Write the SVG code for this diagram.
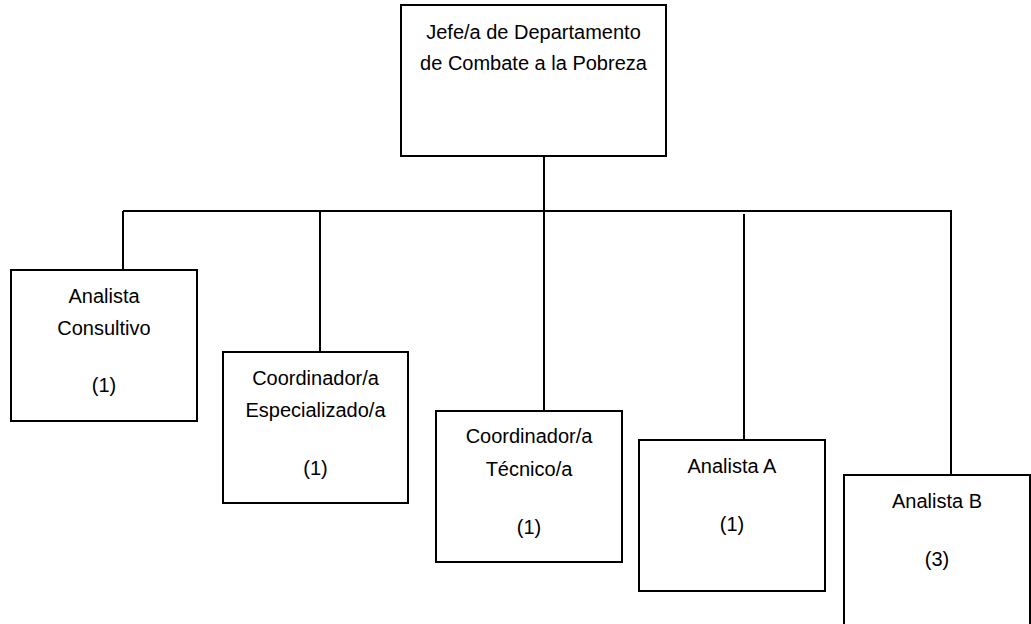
<svg xmlns="http://www.w3.org/2000/svg" width="1031" height="624" viewBox="0 0 1031 624">
<style>
.box{fill:#fff;stroke:#000;stroke-width:2}
.ln{stroke:#000;stroke-width:2;fill:none}
text{font-family:"Liberation Sans",Arial,sans-serif;font-size:20px;fill:#000;text-anchor:middle}
</style>
<rect width="1031" height="624" fill="#fff"/>
<g id="connectors">
<line class="ln" x1="544" y1="156" x2="544" y2="411"/>
<line class="ln" x1="123" y1="211" x2="952" y2="211"/>
<line class="ln" x1="123" y1="211" x2="123" y2="270"/>
<line class="ln" x1="320" y1="211" x2="320" y2="352"/>
<line class="ln" x1="744" y1="214" x2="744" y2="440"/>
<line class="ln" x1="951" y1="211" x2="951" y2="475"/>
</g>
<g id="jefe">
<rect class="box" x="401" y="5" width="265" height="151"/>
<text x="533.5" y="39">Jefe/a de Departamento</text>
<text x="533.5" y="70">de Combate a la Pobreza</text>
</g>
<g id="analista-consultivo">
<rect class="box" x="11" y="270" width="186" height="151"/>
<text x="104" y="303">Analista</text>
<text x="104" y="335">Consultivo</text>
<text x="104" y="392">(1)</text>
</g>
<g id="coord-especializado">
<rect class="box" x="223" y="352" width="185" height="151"/>
<text x="315.5" y="385">Coordinador/a</text>
<text x="315.5" y="417">Especializado/a</text>
<text x="315.5" y="475">(1)</text>
</g>
<g id="coord-tecnico">
<rect class="box" x="436" y="411" width="186" height="151"/>
<text x="529" y="443">Coordinador/a</text>
<text x="529" y="476">Técnico/a</text>
<text x="529" y="534">(1)</text>
</g>
<g id="analista-a">
<rect class="box" x="639" y="440" width="186" height="151"/>
<text x="732" y="473">Analista A</text>
<text x="732" y="531">(1)</text>
</g>
<g id="analista-b">
<rect class="box" x="844" y="475" width="186" height="151"/>
<text x="937" y="508">Analista B</text>
<text x="937" y="566">(3)</text>
</g>
</svg>
